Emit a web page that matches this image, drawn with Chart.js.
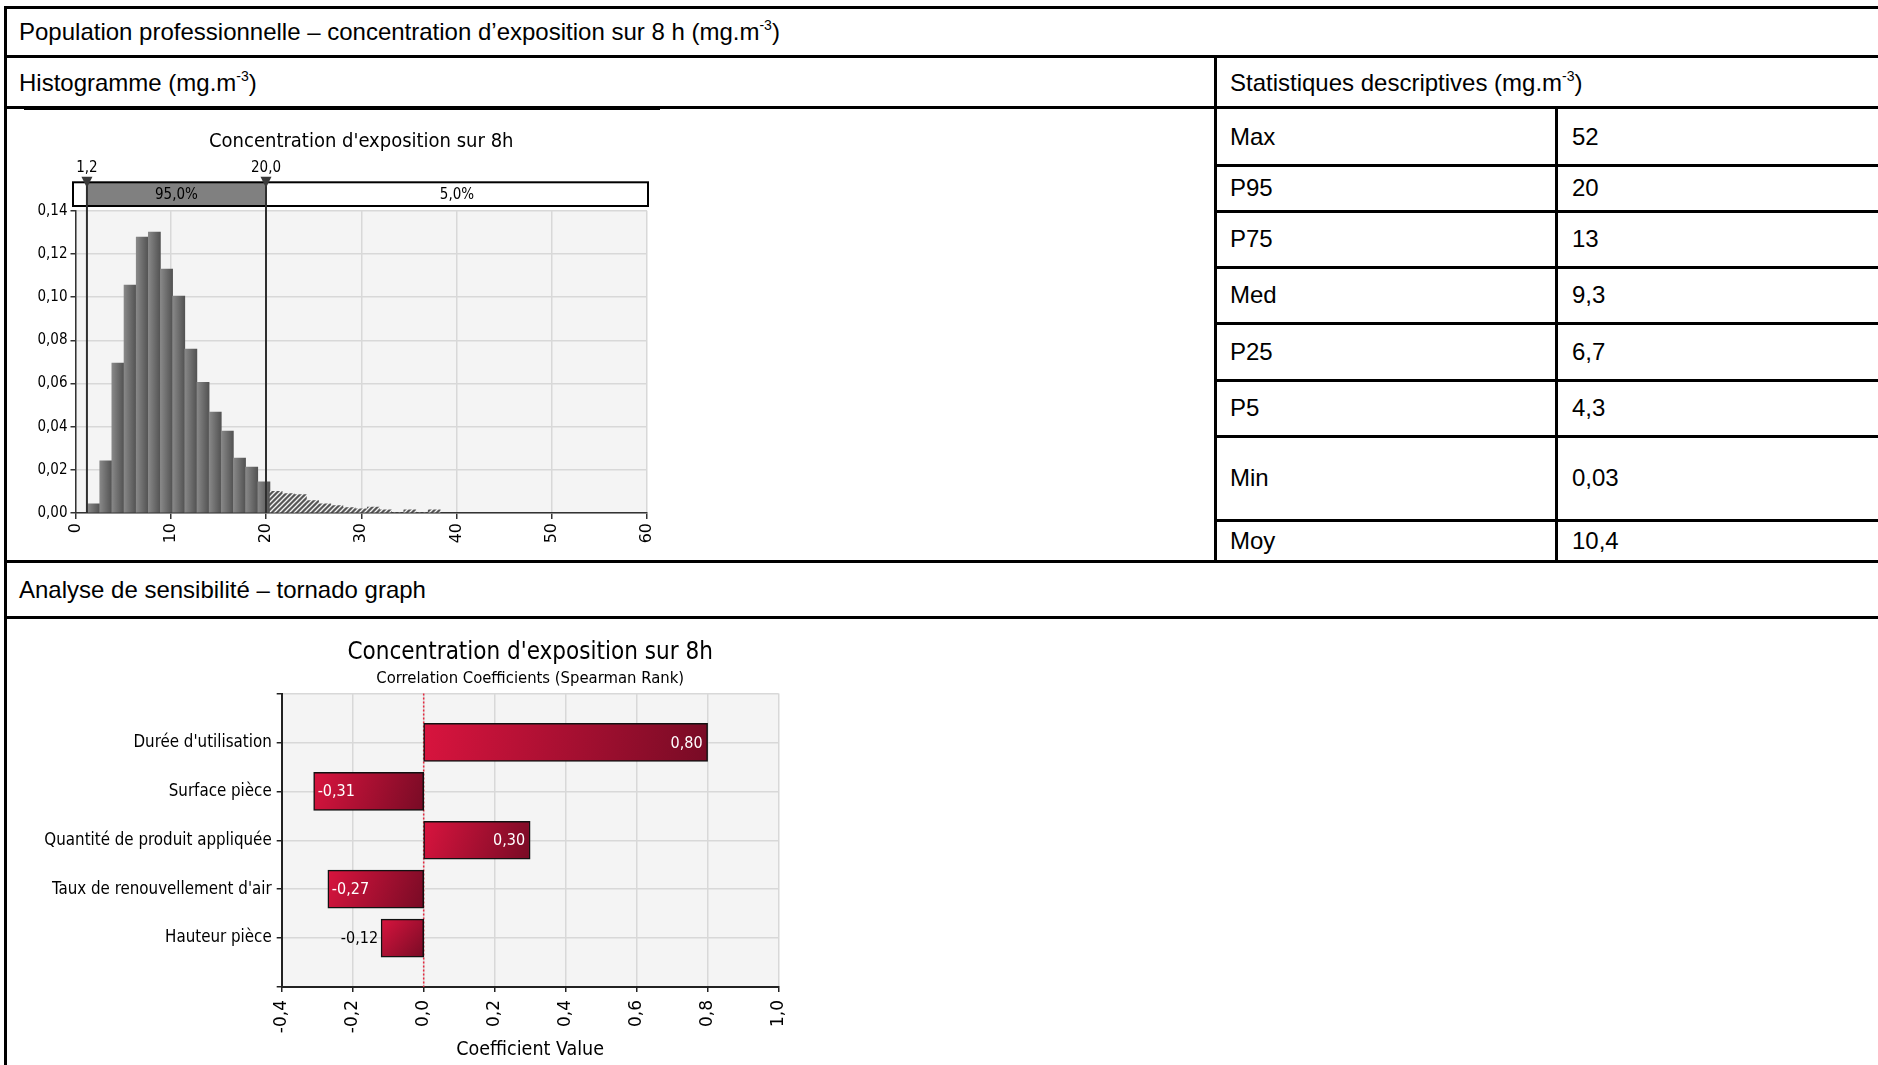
<!DOCTYPE html>
<html>
<head>
<meta charset="utf-8">
<title>Concentration d'exposition sur 8h</title>
<script src="https://cdn.jsdelivr.net/npm/chart.js"></script>
<style>
  body { margin: 0; width: 1878px; height: 1065px; background: #fff; position: relative; overflow: hidden;
         font-family: "Liberation Sans", Arial, sans-serif; }
  .ln { position: absolute; background: #000; }
  .txt { position: absolute; font-size: 24px; line-height: 28px; color: #000; white-space: nowrap; }
  .txt sup { font-size: 14px; vertical-align: 10px; line-height: 0; }
  canvas { position: absolute; }
</style>
</head>
<body>

<div class="txt" style="left:19px; top:18px">Population professionnelle – concentration d’exposition sur 8 h (mg.m<sup>-3</sup>)</div>
<div class="txt" style="left:19px; top:69px">Histogramme (mg.m<sup>-3</sup>)</div>
<div class="txt" style="left:1230px; top:69px">Statistiques descriptives (mg.m<sup>-3</sup>)</div>
<div class="txt" style="left:19px; top:576px">Analyse de sensibilité – tornado graph</div>

<canvas id="histo" width="700" height="450" style="left:7px; top:110px"></canvas>
<canvas id="tornado" width="800" height="445" style="left:7px; top:620px"></canvas>

<script>
// histogram of the 8h exposure concentration (bin centres in mg.m-3, relative frequency)
const binWidth = 1.277;
const binCenters = [1.90, 3.18, 4.45, 5.73, 7.01, 8.28, 9.56, 10.84, 12.11, 13.39,
                    14.67, 15.94, 17.22, 18.50, 19.78, 21.06, 22.33, 23.61, 24.89, 26.17,
                    27.44, 28.72, 30.00, 31.27, 32.55, 33.83, 35.10, 36.38, 37.66];
const binDensity = [0.0043, 0.0242, 0.0694, 0.1056, 0.1278, 0.1301, 0.1130, 0.1005, 0.0759, 0.0605,
                    0.0468, 0.0380, 0.0255, 0.0213, 0.0144, 0.0100, 0.0090, 0.0085, 0.0057, 0.0043,
                    0.0034, 0.0025, 0.0019, 0.0028, 0.0015, 0, 0.0015, 0, 0.0015];
const delimiters = [1.2, 20.0];
const delimiterShares = [95.0, 5.0];

// descriptive statistics
const statNames = ['Max', 'P95', 'P75', 'Med', 'P25', 'P5', 'Min', 'Moy'];
const statValues = ['52', '20', '13', '9,3', '6,7', '4,3', '0,03', '10,4'];

// tornado: Spearman rank correlation of each input with the output
const factors = ["Durée d'utilisation", 'Surface pièce', 'Quantité de produit appliquée',
                 "Taux de renouvellement d'air", 'Hauteur pièce'];
const coefficients = [0.80, -0.31, 0.30, -0.27, -0.12];

const FONT = '"DejaVu Sans Condensed", "DejaVu Sans", sans-serif';
const FONT_WIDE = '"DejaVu Sans", sans-serif';
const fr = (v, d) => (Math.abs(v) < 1e-9 ? 0 : v).toFixed(d).replace('.', ',');

// ---- table grid ----
const rowLines = [108, 165, 211, 267, 323, 380, 436, 520, 562];
function line(x, y, w, h) {
  const d = document.createElement('div');
  d.className = 'ln';
  Object.assign(d.style, { left: x + 'px', top: y + 'px', width: w + 'px', height: h + 'px' });
  document.body.appendChild(d);
}
line(4, 6, 1874, 3);
line(4, 6, 3, 1059);
line(4, 55, 1874, 3);
line(4, 106, 1874, 3);
line(24, 106, 636, 4);
line(1214, 55, 3, 508);
line(1555, 106, 3, 457);
rowLines.slice(1, -1).forEach(y => line(1214, y - 1, 664, 3));
line(4, 560, 1874, 3);
line(4, 616, 1874, 3);

statNames.forEach((name, i) => {
  const mid = (rowLines[i] + rowLines[i + 1]) / 2;
  [[1230, name], [1572, statValues[i]]].forEach(([x, t]) => {
    const d = document.createElement('div');
    d.className = 'txt';
    d.style.left = x + 'px';
    d.style.top = (mid - 14) + 'px';
    d.textContent = t;
    document.body.appendChild(d);
  });
});

// ---- shared helpers ----
const plotBg = {
  id: 'plotBg',
  beforeDraw(chart) {
    const { ctx, chartArea: a } = chart;
    ctx.save();
    ctx.fillStyle = '#f4f4f4';
    ctx.fillRect(a.left, a.top, a.right - a.left, a.bottom - a.top);
    ctx.restore();
  }
};

function makeHatch() {
  const c = document.createElement('canvas');
  c.width = 5; c.height = 5;
  const g = c.getContext('2d');
  g.fillStyle = '#565656';
  g.fillRect(0, 0, 5, 5);
  g.strokeStyle = '#f4f4f4';
  g.lineWidth = 1.3;
  g.beginPath();
  g.moveTo(0, 5); g.lineTo(5, 0);
  g.moveTo(-1, 1); g.lineTo(1, -1);
  g.moveTo(4, 6); g.lineTo(6, 4);
  g.stroke();
  return g.createPattern(c, 'repeat');
}
const hatch = makeHatch();

function histoFill(ctx) {
  const { chart, raw } = ctx;
  if (!raw || !chart.chartArea) return '#666';
  if (raw.x > delimiters[1]) return hatch;
  const xs = chart.scales.x;
  const half = (xs.getPixelForValue(binWidth) - xs.getPixelForValue(0)) / 2;
  const cx = xs.getPixelForValue(raw.x);
  const g = chart.ctx.createLinearGradient(cx - half, 0, cx + half, 0);
  g.addColorStop(0, '#888888');
  g.addColorStop(1, '#525252');
  return g;
}

// percentile band above the histogram, with the two delimiter markers
const delimiterBand = {
  id: 'delimiterBand',
  afterDraw(chart) {
    const { ctx, chartArea: a, scales: { x } } = chart;
    const top = a.top - 28.5, bot = a.top - 4.8;
    const left = x.left - 2.5, right = x.right + 1;
    const p1 = x.getPixelForValue(delimiters[0]);
    const p2 = x.getPixelForValue(delimiters[1]);
    ctx.save();
    ctx.fillStyle = '#fff';
    ctx.fillRect(left, top, right - left, bot - top);
    ctx.fillStyle = '#808080';
    ctx.fillRect(p1, top, p2 - p1, bot - top);
    ctx.strokeStyle = '#000';
    ctx.lineWidth = 2;
    ctx.strokeRect(left, top, right - left, bot - top);

    ctx.font = '15px ' + FONT;
    ctx.fillStyle = '#000';
    ctx.textAlign = 'center';
    ctx.textBaseline = 'middle';
    ctx.fillText(fr(delimiterShares[0], 1) + '%', (p1 + p2) / 2, (top + bot) / 2 + 1);
    ctx.fillText(fr(delimiterShares[1], 1) + '%', (p2 + right) / 2, (top + bot) / 2 + 1);

    [p1, p2].forEach((p, i) => {
      ctx.strokeStyle = '#2e2e2e';
      ctx.lineWidth = 2;
      ctx.beginPath();
      ctx.moveTo(p, top - 4);
      ctx.lineTo(p, a.bottom);
      ctx.stroke();
      ctx.fillStyle = '#3a3a3a';
      ctx.beginPath();
      ctx.moveTo(p - 5.5, top - 5.5);
      ctx.lineTo(p + 5.5, top - 5.5);
      ctx.lineTo(p, top + 5.5);
      ctx.closePath();
      ctx.fill();
      ctx.fillStyle = '#000';
      ctx.fillText(fr(delimiters[i], 1), p, top - 14.5);
    });
    ctx.restore();
  }
};

// ---- histogram ----
new Chart(document.getElementById('histo'), {
  type: 'bar',
  data: {
    datasets: [{
      data: binCenters.map((x, i) => ({ x, y: binDensity[i] })),
      backgroundColor: histoFill,
      borderWidth: 0,
      barPercentage: 1,
      categoryPercentage: 1
    }]
  },
  options: {
    responsive: false,
    animation: false,
    layout: { padding: { left: 0, right: 60, top: 0, bottom: 0 } },
    plugins: {
      legend: { display: false },
      tooltip: { enabled: false },
      title: {
        display: true,
        fullSize: false,
        text: "Concentration d'exposition sur 8h",
        color: '#000',
        font: { family: FONT, size: 20, weight: 'normal' },
        padding: { top: 19.4, bottom: 57.4 }
      }
    },
    scales: {
      x: {
        type: 'linear', min: 0, max: 60, offset: false,
        ticks: { stepSize: 10, minRotation: 90, maxRotation: 90, padding: 4, color: '#000',
                 font: { family: FONT_WIDE, size: 16 } },
        grid: { offset: false, color: '#d8d8d8', lineWidth: 1.5, tickLength: 6, tickColor: '#333' },
        border: { color: '#333', width: 1.5 },
        afterFit: s => { s.height = 47; }
      },
      y: {
        min: 0, max: 0.14,
        ticks: { stepSize: 0.02, padding: 3, color: '#000', font: { family: FONT, size: 15 },
                 callback: v => fr(v, 2) },
        grid: { color: '#d8d8d8', lineWidth: 1.5, tickLength: 5, tickColor: '#333' },
        border: { color: '#333', width: 1.5 },
        afterFit: s => { s.width = 68.5; }
      }
    }
  },
  plugins: [plotBg, delimiterBand]
});

// ---- tornado ----
function tornadoFill(ctx) {
  const { chart, raw } = ctx;
  if (!raw || !chart.chartArea) return '#a80d30';
  const xs = chart.scales.x, ys = chart.scales.y;
  const x0 = xs.getPixelForValue(0), x1 = xs.getPixelForValue(raw.x);
  const cy = ys.getPixelForValue(raw.y);
  const g = chart.ctx.createLinearGradient(Math.min(x0, x1), cy - 19, Math.max(x0, x1), cy + 19);
  g.addColorStop(0, '#d8143e');
  g.addColorStop(1, '#780b25');
  return g;
}

const zeroLine = {
  id: 'zeroLine',
  beforeDatasetsDraw(chart) {
    const { ctx, chartArea: a, scales: { x } } = chart;
    const p = x.getPixelForValue(0);
    ctx.save();
    ctx.strokeStyle = '#e8283f';
    ctx.lineWidth = 1.5;
    ctx.setLineDash([2, 2]);
    ctx.beginPath();
    ctx.moveTo(p, a.top);
    ctx.lineTo(p, a.bottom);
    ctx.stroke();
    ctx.restore();
  }
};

const valueLabels = {
  id: 'valueLabels',
  afterDatasetsDraw(chart) {
    const { ctx } = chart;
    ctx.save();
    ctx.font = '16px ' + FONT;
    ctx.textBaseline = 'middle';
    chart.getDatasetMeta(0).data.forEach((bar, i) => {
      const v = coefficients[i];
      const t = fr(v, 2);
      const w = ctx.measureText(t).width;
      const pos = v >= 0;
      if (Math.abs(bar.x - bar.base) > w + 10) {
        ctx.fillStyle = '#fff';
        ctx.textAlign = pos ? 'right' : 'left';
        ctx.fillText(t, pos ? bar.x - 5 : bar.x + 4, bar.y + 1);
      } else {
        ctx.fillStyle = '#000';
        ctx.textAlign = pos ? 'left' : 'right';
        ctx.fillText(t, pos ? bar.x + 3 : bar.x - 3, bar.y + 1);
      }
    });
    ctx.restore();
  }
};

new Chart(document.getElementById('tornado'), {
  type: 'bar',
  data: {
    datasets: [{
      data: factors.map((f, i) => ({ x: coefficients[i], y: i + 1 })),
      backgroundColor: tornadoFill,
      borderColor: '#111',
      borderWidth: 1.5,
      borderSkipped: false,
      barThickness: 38
    }]
  },
  options: {
    indexAxis: 'y',
    responsive: false,
    animation: false,
    layout: { padding: { left: 0, right: 23.7, top: 0, bottom: 0 } },
    plugins: {
      legend: { display: false },
      tooltip: { enabled: false },
      title: {
        display: true,
        fullSize: false,
        text: "Concentration d'exposition sur 8h",
        color: '#000',
        font: { family: FONT, size: 24, weight: 'normal' },
        padding: { top: 18, bottom: 1.8 }
      },
      subtitle: {
        display: true,
        fullSize: false,
        text: 'Correlation Coefficients (Spearman Rank)',
        color: '#000',
        font: { family: FONT, size: 16.5, weight: 'normal' },
        padding: { top: 0, bottom: 5.1 }
      }
    },
    scales: {
      x: {
        type: 'linear', min: -0.4, max: 1.0,
        ticks: { stepSize: 0.2, minRotation: 90, maxRotation: 90, padding: 8, color: '#000',
                 font: { family: FONT_WIDE, size: 17 }, callback: v => fr(v, 1) },
        grid: { color: '#d8d8d8', lineWidth: 1.5, tickLength: 5, tickColor: '#222' },
        border: { color: '#222', width: 2 },
        title: { display: true, text: 'Coefficient Value', color: '#000',
                 font: { family: FONT, size: 19.5 }, padding: { top: 0, bottom: 3 } },
        afterFit: s => { s.height = 78; }
      },
      y: {
        type: 'linear', min: 0, max: 6, reverse: true, offset: false,
        afterBuildTicks: s => { s.ticks = [0, 1, 2, 3, 4, 5, 6].map(value => ({ value })); },
        ticks: { padding: 5, color: '#000', font: { family: FONT, size: 16.8 },
                 callback: v => factors[v - 1] || '' },
        grid: { offset: false, color: '#d8d8d8', lineWidth: 1.5, tickLength: 5, tickColor: '#222' },
        border: { color: '#222', width: 2 },
        afterFit: s => { s.width = 274.7; }
      }
    }
  },
  plugins: [plotBg, zeroLine, valueLabels]
});
</script>
</body>
</html>
